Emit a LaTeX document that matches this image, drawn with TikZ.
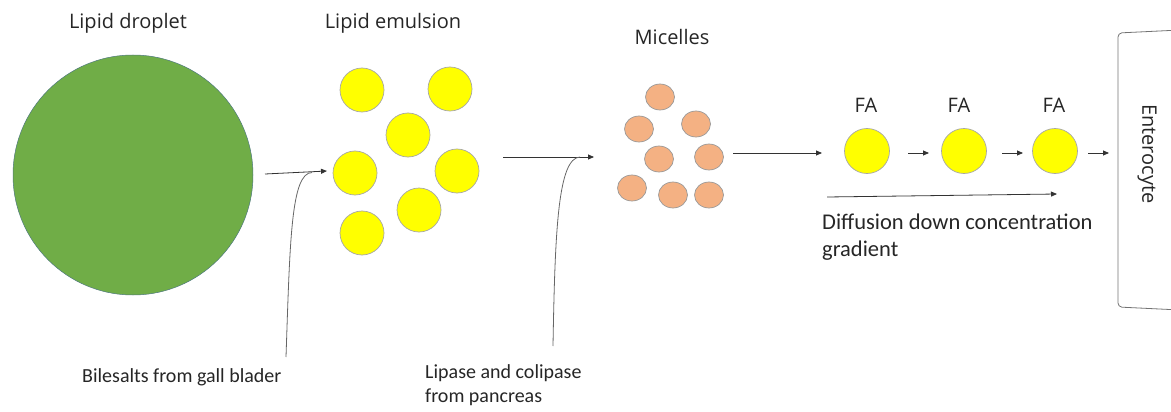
\documentclass[tikz,border=0pt]{standalone}
\usepackage{fontspec}
\setmainfont{Carlito}
\newfontfamily\segoe{Open Sans}
\usetikzlibrary{shapes.geometric,arrows.meta}
\definecolor{dropgreen}{HTML}{70AD47}
\definecolor{fayellow}{HTML}{FFFF00}
\definecolor{micorange}{HTML}{F4B183}
\definecolor{txt}{HTML}{262626}
\begin{document}
\begin{tikzpicture}[x=1pt,y=-1pt,
  lbl/.style={font=\fontsize{20}{24}\selectfont, text=txt, inner sep=0pt},
  head/.style={font=\segoe\fontsize{20}{24}\selectfont, text=txt, inner sep=0pt},
  drop/.style={circle, fill=dropgreen, draw=dropgreen!70!blue, line width=0.5pt, minimum size=240pt, inner sep=0pt},
  emul/.style={circle, fill=fayellow, draw=gray!70, line width=0.7pt, minimum size=44pt, inner sep=0pt},
  mic/.style={ellipse, fill=micorange, draw=gray!80, line width=0.7pt, minimum width=29pt, minimum height=26pt, inner sep=0pt},
  conn/.style={draw=black!80, line width=0.8pt, -{Triangle[length=6pt,width=5pt]}},
  feed/.style={draw=gray!80!black, line width=0.8pt}
]
\useasboundingbox (0,0) rectangle (1171,412);

% labels
\node[head] (tdrop) at (128,23) {Lipid droplet};
\node[head] (temul) at (393,23) {Lipid emulsion};
\node[head] (tmic) at (672,37) {Micelles};
\node[lbl, anchor=west] (tbile) at (82,377) {Bilesalts from gall blader};
\node[lbl, anchor=west, align=left] (tlip) at (425,385) {Lipase and colipase\\from pancreas};
\node[lbl, anchor=west, align=left, font=\fontsize{22.5}{27}\selectfont] (tdiff) at (822,237) {Diffusion down concentration\\gradient};

% lipid droplet
\node[drop] (droplet) at (133,175) {};

% emulsion
\node[emul] (e1) at (362,90) {};
\node[emul] (e2) at (450,89) {};
\node[emul] (e3) at (408,135) {};
\node[emul] (e4) at (355,173) {};
\node[emul] (e5) at (457,171) {};
\node[emul] (e6) at (419,210) {};
\node[emul] (e7) at (362,233) {};

% micelles
\node[mic] (m1) at (660,97) {};
\node[mic] (m2) at (639,129) {};
\node[mic] (m3) at (696,124) {};
\node[mic] (m4) at (659,159) {};
\node[mic] (m5) at (709,157) {};
\node[mic] (m6) at (632,188) {};
\node[mic] (m7) at (673,195) {};
\node[mic] (m8) at (709,195) {};

% fatty acids
\node[emul, minimum size=45pt] (fa1) at (867,151) {};
\node[emul, minimum size=45pt] (fa2) at (964,151) {};
\node[emul, minimum size=45pt] (fa3) at (1055,151) {};
\node[head] (tfa1) at (866,105) {FA};
\node[head] (tfa2) at (959,105) {FA};
\node[head] (tfa3) at (1054,105) {FA};

% enterocyte
\draw[gray!90!black, line width=0.8pt, rounded corners=4pt] (1180,30) -- (1118,33) -- (1118,307) -- (1180,310);
\node[head, rotate=-90] (tent) at (1147,154) {Enterocyte};

% coordinates
\coordinate (a1s) at (265,174);
\coordinate (a1e) at (327,171);
\coordinate (b1) at (286,357);
\coordinate (b1j) at (312,172.5);
\coordinate (a2s) at (503,157);
\coordinate (a2e) at (594,157);
\coordinate (b2) at (553,346);
\coordinate (b2j) at (580,157);
\coordinate (a3s) at (733,153);
\coordinate (a3e) at (822,153);
\coordinate (a4s) at (908,153);
\coordinate (a4e) at (929,153);
\coordinate (a5s) at (1002,153);
\coordinate (a5e) at (1023,153);
\coordinate (a6s) at (1088,153);
\coordinate (a6e) at (1109,153);
\coordinate (dfs) at (827,197);
\coordinate (dfe) at (1057,194);

% arrows
\draw[conn] (a1s) -- (a1e);
\draw[feed] (b1) .. controls (290,240) and (291,173) .. (b1j);
\draw[conn] (a2s) -- (a2e);
\draw[feed] (b2) .. controls (555,230) and (558,158) .. (b2j);
\draw[conn] (a3s) -- (a3e);
\draw[conn] (a4s) -- (a4e);
\draw[conn] (a5s) -- (a5e);
\draw[conn] (a6s) -- (a6e);
\draw[conn] (dfs) -- (dfe);
\end{tikzpicture}
\end{document}
